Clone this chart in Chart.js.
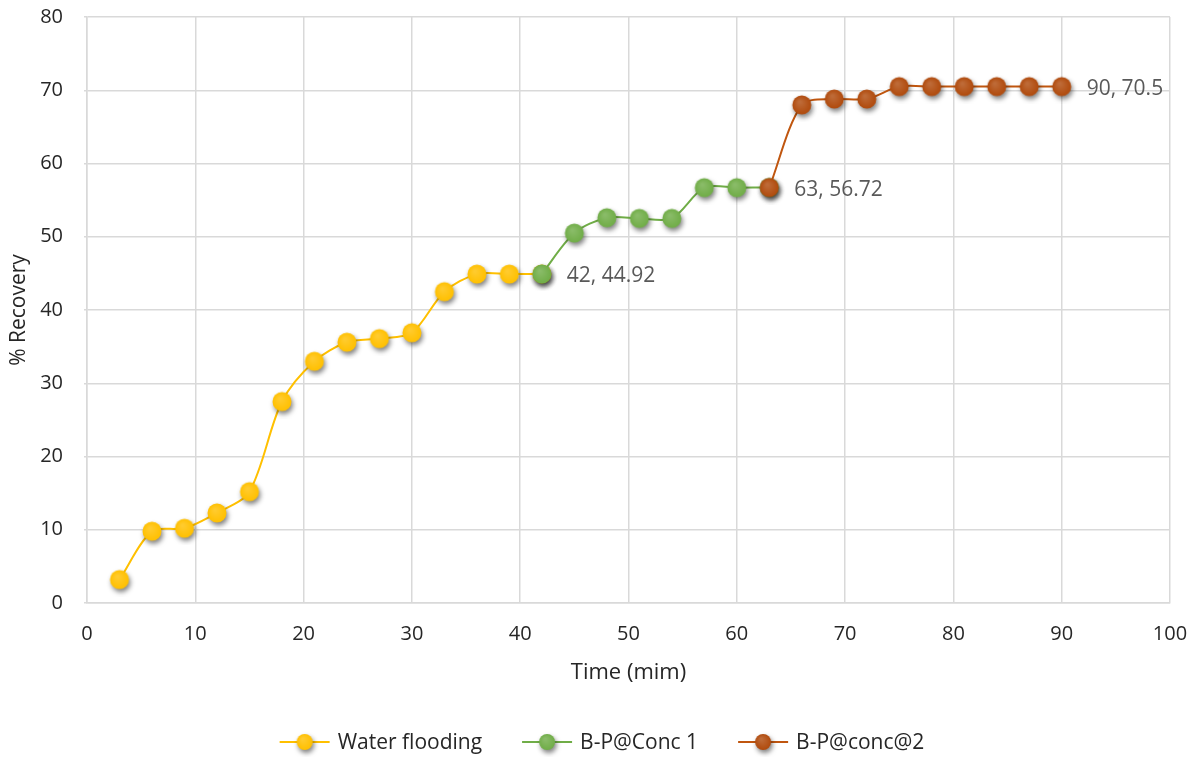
<!DOCTYPE html>
<html><head><meta charset="utf-8">
<script src="https://cdn.jsdelivr.net/npm/chart.js@4.4.1/dist/chart.umd.min.js"></script>
<style>html,body{margin:0;padding:0;background:#fff}#wrap{width:1197px;height:757px}</style>
</head><body><div id="wrap"><canvas id="c" width="1197" height="757"></canvas></div>
<script>
const waterX = [3,6,9,12,15,18,21,24,27,30,33,36,39,42];
const waterY = [3.2,9.8,10.2,12.3,15.2,27.5,33,35.6,36.1,36.9,42.5,44.9,44.9,44.92];
const conc1X = [42,45,48,51,54,57,60,63];
const conc1Y = [44.92,50.5,52.6,52.5,52.5,56.7,56.7,56.72];
const conc2X = [63,66,69,72,75,78,81,84,87,90];
const conc2Y = [56.72,68,68.8,68.8,70.5,70.5,70.5,70.5,70.5,70.5];
const seriesNames = ["Water flooding","B-P@Conc 1","B-P@conc@2"];
const xTicks = [0,10,20,30,40,50,60,70,80,90,100];
const yTicks = [0,10,20,30,40,50,60,70,80];

const pts = (xs, ys) => xs.map((x,i)=>({x, y: ys[i]}));
const FONT = "'Open Sans', sans-serif";
const lineColors = ['#FFC000','#70AD47','#C0560F'];
const markColors = ['#FFC000','#70AD47','#B04A0C'];

function markerImg(color, r){
  const s = 34;
  const c = document.createElement('canvas'); c.width = s; c.height = s;
  const g = c.getContext('2d');
  g.save();
  g.shadowColor = 'rgba(0,0,0,0.5)'; g.shadowBlur = 5; g.shadowOffsetX = 1.5; g.shadowOffsetY = 3;
  g.fillStyle = color; g.beginPath(); g.arc(s/2, s/2, r, 0, Math.PI*2); g.fill();
  g.restore();
  const grd = g.createRadialGradient(s/2-2, s/2-3, 1, s/2, s/2, r);
  grd.addColorStop(0, 'rgba(255,255,255,0.18)');
  grd.addColorStop(1, 'rgba(255,255,255,0)');
  g.fillStyle = grd; g.beginPath(); g.arc(s/2, s/2, r, 0, Math.PI*2); g.fill();
  return c;
}
const markers = markColors.map(c => markerImg(c, 9.5));
const legMarkers = markColors.map(c => markerImg(c, 8));

const labelPlugin = {
  id:'lastLabels',
  afterDatasetsDraw(chart){
    const ctx = chart.ctx;
    ctx.save();
    ctx.font = "21px " + FONT;
    ctx.fillStyle = '#595959';
    ctx.textBaseline = 'middle';
    ctx.textAlign = 'left';
    chart.data.datasets.forEach((ds, i) => {
      const meta = chart.getDatasetMeta(i);
      const last = meta.data[meta.data.length-1];
      const d = ds.data[ds.data.length-1];
      ctx.fillText(d.x + ', ' + d.y, last.x + 25, last.y + 2);
    });
    ctx.restore();
  }
};

const legendPlugin = {
  id:'customLegend',
  afterDraw(chart){
    const ctx = chart.ctx;
    ctx.save();
    ctx.font = "21px " + FONT;
    const iconW = 50, gapText = 8, gapItem = 40, cy = 742, centerX = 602;
    const widths = seriesNames.map(t => ctx.measureText(t).width);
    const total = widths.reduce((a,w)=>a+iconW+gapText+w,0) + gapItem*(seriesNames.length-1);
    let x = centerX - total/2;
    seriesNames.forEach((t,i)=>{
      ctx.strokeStyle = lineColors[i]; ctx.lineWidth = 2;
      ctx.beginPath(); ctx.moveTo(x, cy); ctx.lineTo(x+iconW, cy); ctx.stroke();
      const m = legMarkers[i];
      ctx.drawImage(m, x+iconW/2-m.width/2, cy-m.height/2);
      ctx.fillStyle = '#262626'; ctx.textBaseline = 'middle'; ctx.textAlign = 'left';
      ctx.fillText(t, x+iconW+gapText, cy+1);
      x += iconW + gapText + widths[i] + gapItem;
    });
    ctx.restore();
  }
};

const datasets = [[waterX,waterY],[conc1X,conc1Y],[conc2X,conc2Y]].map((s,i)=>({
  label: seriesNames[i],
  data: pts(s[0], s[1]),
  borderColor: lineColors[i],
  backgroundColor: markColors[i],
  pointStyle: markers[i],
  pointRadius: 9,
  pointHoverRadius: 9,
  borderWidth: 2,
  tension: 0.3,
  order: 3 - i
}));

new Chart(document.getElementById('c'), {
  type: 'line',
  data: { datasets },
  options: {
    responsive: false,
    animation: false,
    events: [],
    layout: { padding: { top: 0, right: 27, left: 0, bottom: 71 } },
    plugins: { tooltip: { enabled: false }, legend: { display: false } },
    scales: {
      x: {
        type: 'linear', min: 0, max: 100,
        afterBuildTicks(s){ s.ticks = xTicks.map(v=>({value:v})); },
        afterFit(s){ s.height = 83; s.paddingLeft = 0; s.paddingRight = 0; },
        grid: { color: '#d9d9d9', lineWidth: 1.5, drawTicks: false },
        border: { color: '#d9d9d9', width: 1.5 },
        ticks: { font: { size: 20, family: FONT }, color: '#262626', padding: 19, maxRotation: 0 },
        title: { display: true, text: 'Time (mim)', font: { size: 22, family: FONT }, color: '#262626', padding: { top: 4, bottom: 0 } }
      },
      y: {
        type: 'linear', min: 0, max: 80,
        afterBuildTicks(s){ s.ticks = yTicks.map(v=>({value:v})); },
        afterFit(s){ s.width = 87; s.paddingTop = 17; s.paddingBottom = 0; },
        grid: { color: '#d9d9d9', lineWidth: 1.5, drawTicks: true, tickLength: 3 },
        border: { color: '#d9d9d9', width: 1.5 },
        ticks: { font: { size: 20, family: FONT }, color: '#262626', padding: 21 },
        title: { display: true, text: '% Recovery', font: { size: 21, family: FONT }, color: '#262626', padding: { top: 6, bottom: 4 } }
      }
    }
  },
  plugins: [labelPlugin, legendPlugin]
});
</script></body></html>
